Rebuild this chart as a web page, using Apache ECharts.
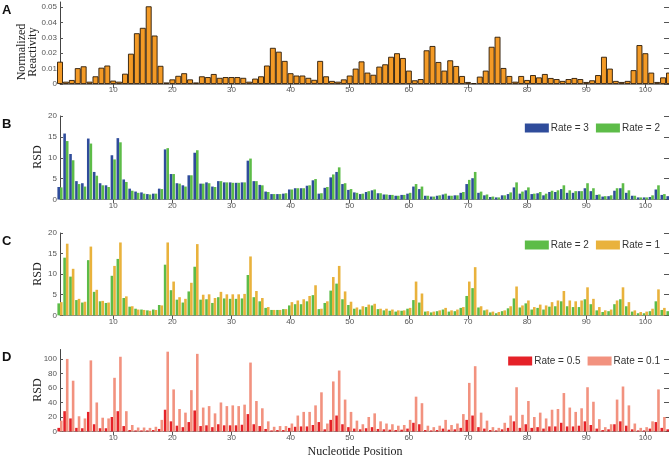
<!DOCTYPE html>
<html>
<head>
<meta charset="utf-8">
<script src="https://cdn.jsdelivr.net/npm/echarts@6/dist/echarts.min.js"></script>
<style>html,body{margin:0;padding:0;background:#fff;}#chart{width:669px;height:458px;}</style>
</head>
<body>
<div id="chart"></div>
<script>
// Nucleotide positions 1..104
const positions = Array.from({length: 104}, (_, i) => i + 1);
const xTickValues = [10, 20, 30, 40, 50, 60, 70, 80, 90, 100];
const reactTicks = [0, 0.01, 0.02, 0.03, 0.04, 0.05];
const rsdTicks = [0, 5, 10, 15, 20];
const rsdTicksD = [0, 20, 40, 60, 80, 100];

// Panel A: normalized reactivity
const reactivity = [
0.0145,0.0015,0.0026,0.0103,0.0115,0.0015,0.0050,0.0106,0.0120,0.0022,
0.0015,0.0067,0.0197,0.0330,0.0365,0.0505,0.0315,0.0118,0.0010,0.0030,
0.0053,0.0070,0.0030,0.0010,0.0050,0.0045,0.0065,0.0040,0.0045,0.0045,
0.0045,0.0040,0.0015,0.0035,0.0050,0.0120,0.0235,0.0210,0.0150,0.0070,
0.0055,0.0055,0.0040,0.0027,0.0150,0.0050,0.0020,0.0015,0.0030,0.0055,
0.0100,0.0147,0.0074,0.0060,0.0113,0.0128,0.0177,0.0200,0.0169,0.0087,
0.0024,0.0032,0.0219,0.0247,0.0143,0.0087,0.0154,0.0117,0.0052,0.0013,
0.0006,0.0048,0.0087,0.0242,0.0307,0.0104,0.0052,0.0015,0.0052,0.0026,
0.0058,0.0043,0.0065,0.0039,0.0032,0.0020,0.0032,0.0039,0.0032,0.0013,
0.0024,0.0058,0.0177,0.0100,0.0020,0.0013,0.0020,0.0090,0.0253,0.0200,
0.0074,0.0013,0.0043,0.0074];

// Panel B/C: RSD
const rsdRate3 = [
3.0,15.8,10.9,4.4,3.9,14.6,6.6,3.9,3.4,10.6,
14.7,4.8,2.6,1.9,1.7,1.3,1.4,2.6,12.0,6.1,
3.9,3.4,5.8,11.2,3.8,4.1,3.1,4.4,4.1,4.1,
4.0,4.1,9.3,4.4,3.5,1.9,1.3,1.3,1.4,2.4,
2.7,2.7,3.3,4.6,1.4,2.8,5.3,6.6,3.7,2.3,
1.7,1.3,1.8,2.2,1.5,1.2,1.1,0.9,1.1,1.4,
3.1,2.5,0.9,0.7,0.9,1.2,0.9,1.0,1.6,3.7,
5.1,1.6,1.0,0.6,0.5,1.0,1.3,2.9,1.4,2.2,
1.3,1.5,1.0,1.8,1.8,2.5,1.6,1.6,2.0,2.7,
2.0,1.1,0.7,0.8,2.1,2.7,1.6,0.9,0.5,0.5,
0.6,2.4,1.1,0.8];
const rsdRate2 = [
2.9,14.0,9.4,3.7,3.1,13.4,5.7,3.4,3.0,9.6,
13.7,4.2,2.1,1.6,1.4,1.2,1.4,2.5,12.3,6.1,
3.8,3.1,5.8,11.8,3.8,3.9,3.0,4.4,4.1,4.0,
4.0,4.1,9.8,4.4,3.4,1.8,1.3,1.3,1.5,2.4,
2.7,2.7,3.4,4.9,1.5,3.0,6.0,7.7,3.9,2.5,
1.6,1.4,2.0,2.4,1.5,1.2,1.1,0.9,1.1,1.6,
3.7,3.1,0.9,0.7,1.0,1.4,0.9,1.0,1.8,4.7,
6.6,1.9,1.2,0.7,0.5,1.0,1.7,4.1,1.9,2.9,
1.4,1.8,1.4,2.1,2.2,3.4,2.2,2.0,2.0,3.9,
2.7,1.2,0.8,1.0,2.7,3.9,2.2,0.9,0.5,0.5,
1.0,3.4,1.3,1.0];
const rsdRate1 = [
3.2,17.4,11.3,4.0,3.3,16.7,6.2,3.5,3.1,12.0,
17.7,4.6,2.2,1.4,1.3,1.1,1.3,2.4,17.7,8.2,
4.4,4.0,7.9,17.3,5.0,5.1,4.2,5.7,5.1,5.1,
5.1,5.2,14.3,5.9,4.2,2.0,1.3,1.3,1.5,3.2,
3.6,3.9,4.7,7.3,1.6,3.4,9.3,12.0,5.8,3.3,
1.9,2.2,2.6,2.8,1.6,1.6,1.4,1.2,1.2,1.8,
8.2,5.3,1.0,0.9,1.2,1.8,1.2,1.4,2.0,8.2,
11.7,2.2,1.4,0.9,0.8,1.2,2.2,7.0,2.4,3.6,
2.0,2.6,2.4,3.2,3.6,5.9,3.6,3.4,3.6,6.8,
4.0,2.0,1.2,1.4,3.6,6.8,3.2,1.2,0.8,0.9,
1.6,6.3,1.8,2.0];

// Panel D: RSD
const rsdRate05 = [
5,28,18,5,4.5,27,10,4.5,4.5,20,
28,7.5,2,1.5,1.5,1.5,2,3.5,30,14,
8,6,13,29,7.5,8.5,6,10,8.5,8.5,
8.5,9.3,24,10,7.5,3.5,1.5,2,2,5,
6.5,7,7,9,13,3,16,22,10,6,
4,3,4.5,6,3.5,3,2.5,2,2.5,4,
12,10,2,1.5,2,4,2.5,3,5,16,
22,6,4,2,1.5,3,5,14,5,10,
5,6,4,7,7,12,7,7,8,14,
9,4,2,3,10,14,8,3,1.5,1.5,
4,13,5,3];
const rsdRate01 = [
15,100,70,21,18,98,40,19,18,74,
103,28,9,5.5,5.5,5,6.5,16,110,58,
31,26,57,107,33,35,25,40,35,36,
35,37,95,42,32,14,6.5,7.5,7.5,11,
22,27,27,36,54,11,69,84,44,27,
15,10,20,25,14,11,10,8,9,16,
48,39,8,6,8,16,9,11,24,67,
90,26,15,6,5,12,22,61,23,42,
20,26,18,30,31,53,33,27,32,61,
41,17,6,10,44,62,36,11,5,6,
14,58,20,8];

const pair = (vals) => positions.map((p, i) => [p, vals[i]]);

const gridDefs = [
  {top: 2, height: 82},
  {top: 116, height: 83.5},
  {top: 233, height: 82.3},
  {top: 349.5, height: 82}
];
const yMax = [0.0533, 20, 20, 113];
const yTicks = [reactTicks, rsdTicks, rsdTicks, rsdTicksD];

const labelFont = {fontSize: 8, color: '#555', fontFamily: 'Liberation Sans'};
const grid = gridDefs.map(g => ({left: 60, right: 0, top: g.top, height: g.height}));
const xAxis = [], yAxis = [];
gridDefs.forEach((g, gi) => {
  xAxis.push({type: 'value', gridIndex: gi, min: 1, max: 104, position: 'bottom',
    axisLine: {show: false}, axisTick: {show: false}, splitLine: {show: false},
    axisLabel: Object.assign({customValues: xTickValues, margin: 2}, labelFont)});
  xAxis.push({type: 'value', gridIndex: gi, min: 1, max: 104, position: 'top',
    axisLine: {show: true, lineStyle: {color: '#888', width: 1}},
    axisTick: {show: true, inside: true, length: 4, customValues: xTickValues, lineStyle: {color: '#555'}},
    axisLabel: {show: false}, splitLine: {show: false}});
  yAxis.push({type: 'value', gridIndex: gi, min: 0, max: yMax[gi], position: 'left',
    axisLine: {show: true, lineStyle: {color: '#444', width: 1}},
    axisTick: {show: true, inside: true, length: 3, customValues: yTicks[gi], lineStyle: {color: '#555'}},
    axisLabel: Object.assign({customValues: yTicks[gi], margin: 3}, labelFont),
    splitLine: {show: false}});
  yAxis.push({type: 'value', gridIndex: gi, min: 0, max: yMax[gi], position: 'right',
    axisLine: {show: true, lineStyle: {color: '#888'}},
    axisTick: {show: true, inside: true, length: 5, customValues: yTicks[gi], lineStyle: {color: '#555'}},
    axisLabel: {show: false}, splitLine: {show: false}});
});

const C_ORANGE = '#F39A26', C_BLUE = '#2F4C9B', C_GREEN = '#5DBC48', C_GOLD = '#E9B23C', C_RED = '#E52128', C_SALMON = '#F2927F';
const bw = 2.6;
const series = [
  {type: 'bar', name: 'Reactivity', xAxisIndex: 0, yAxisIndex: 0, data: pair(reactivity), barWidth: 5.9,
    itemStyle: {color: C_ORANGE, borderColor: '#2a1a08', borderWidth: 0.9}},
  {type: 'bar', name: 'Rate = 3', xAxisIndex: 2, yAxisIndex: 2, data: pair(rsdRate3), barWidth: bw, barGap: '0%', itemStyle: {color: C_BLUE}},
  {type: 'bar', name: 'Rate = 2', xAxisIndex: 2, yAxisIndex: 2, data: pair(rsdRate2), barWidth: bw, barGap: '0%', itemStyle: {color: C_GREEN}},
  {type: 'bar', name: 'Rate = 2', xAxisIndex: 4, yAxisIndex: 4, data: pair(rsdRate2), barWidth: bw, barGap: '0%', itemStyle: {color: C_GREEN}},
  {type: 'bar', name: 'Rate = 1', xAxisIndex: 4, yAxisIndex: 4, data: pair(rsdRate1), barWidth: bw, barGap: '0%', itemStyle: {color: C_GOLD}},
  {type: 'bar', name: 'Rate = 0.5', xAxisIndex: 6, yAxisIndex: 6, data: pair(rsdRate05), barWidth: bw, barGap: '0%', itemStyle: {color: C_RED}},
  {type: 'bar', name: 'Rate = 0.1', xAxisIndex: 6, yAxisIndex: 6, data: pair(rsdRate01), barWidth: bw, barGap: '0%', itemStyle: {color: C_SALMON}}
];

const legendBase = {right: 9, orient: 'horizontal', itemWidth: 24, itemHeight: 9, itemGap: 7, padding: 0,
  icon: 'rect', textStyle: {fontSize: 10, color: '#333', fontFamily: 'Liberation Sans', padding: [0, 0, 0, -3]}, selectedMode: false};
const legend = [
  Object.assign({}, legendBase, {top: 123, data: ['Rate = 3', 'Rate = 2']}),
  Object.assign({}, legendBase, {top: 240, data: ['Rate = 2', 'Rate = 1']}),
  Object.assign({}, legendBase, {top: 356, data: ['Rate = 0.5', 'Rate = 0.1']})
];

const letter = (t, y) => ({type: 'text', left: 2, top: y - 7, style: {text: t, fontSize: 13, fontWeight: 'bold', fill: '#111', fontFamily: 'Liberation Sans'}});
const serifTitle = (t, x, y) => ({type: 'text', x: x, y: y, rotation: Math.PI / 2,
  style: {text: t, fontSize: 12, fill: '#222', fontFamily: 'Liberation Serif', textAlign: 'center', textVerticalAlign: 'middle', lineHeight: 11}});
const graphic = [
  letter('A', 11), letter('B', 125), letter('C', 242), letter('D', 358),
  serifTitle('Normalized\nReactivity', 27, 52),
  serifTitle('RSD', 37.5, 157), serifTitle('RSD', 37.5, 274), serifTitle('RSD', 37.5, 390),
  {type: 'text', x: 355, y: 452, style: {text: 'Nucleotide Position', fontSize: 12, fill: '#222', fontFamily: 'Liberation Serif', textAlign: 'center', textVerticalAlign: 'middle'}}
];

const chart = echarts.init(document.getElementById('chart'), null, {renderer: 'canvas'});
chart.setOption({animation: false, backgroundColor: '#fff', grid, xAxis, yAxis, series, legend, graphic});
</script>
</body>
</html>
